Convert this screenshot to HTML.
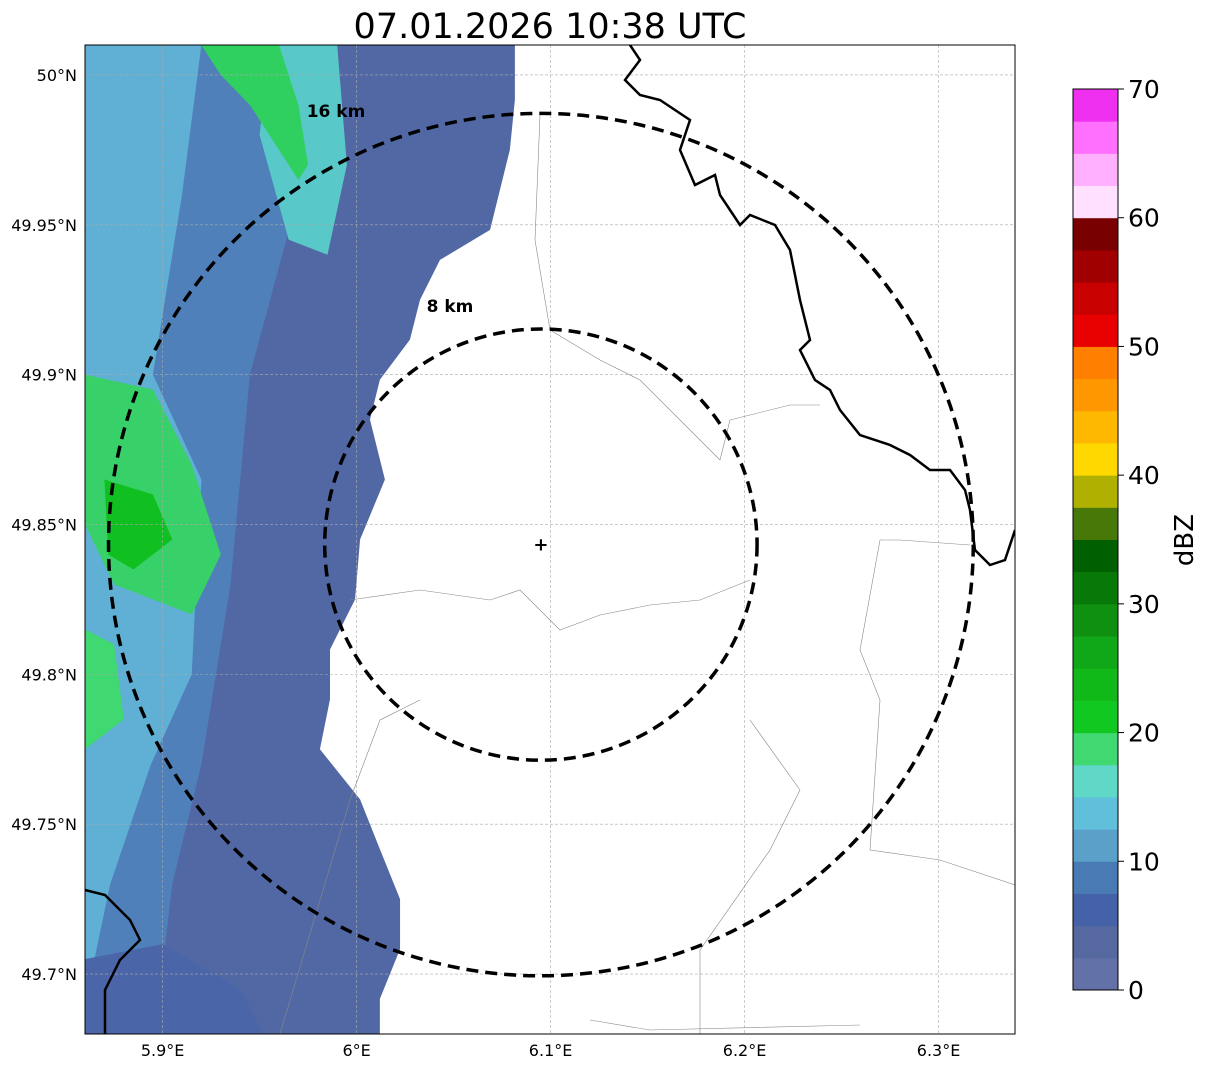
<!DOCTYPE html>
<html><head><meta charset="utf-8"><style>
body{margin:0;background:#fff;}
svg{display:block;font-family:"DejaVu Sans","Liberation Sans",sans-serif;}
</style></head><body>
<svg id="chart" width="1207" height="1069" viewBox="0 0 1207 1069">
<text x="550" y="38" font-size="35" text-anchor="middle">07.01.2026 10:38 UTC</text>
<defs><clipPath id="pc"><rect x="85" y="45" width="930" height="989"/></clipPath></defs>
<g id="plot" clip-path="url(#pc)"></g>
<rect x="85" y="45" width="930" height="989" fill="none" stroke="#000" stroke-width="1"/>
<g id="axes"></g>
<g id="cbar"></g>
</svg>
<script>
const lonTicks=[5.9,6.0,6.1,6.2,6.3];
const lonLabels=["5.9°E","6°E","6.1°E","6.2°E","6.3°E"];
const latTicks=[50,49.95,49.9,49.85,49.8,49.75,49.7];
const latLabels=["50°N","49.95°N","49.9°N","49.85°N","49.8°N","49.75°N","49.7°N"];
const cbLevels=[0,10,20,30,40,50,60,70];
const cbColors=["#6272a8","#5668a0","#4562a8","#4a7ab4","#5aa0c8","#60c0dc","#60d8c8","#40d870","#10c820","#10b818","#10a818","#109010","#087808","#006000","#487808","#b0b000","#ffd800","#ffb800","#ff9800","#ff8000","#e80000","#c80000","#a00000","#780000","#ffe0ff","#ffb0ff","#ff70ff","#f030f0"];
const radarCenter=[6.095,49.8433];
const ringKm=[8,16];
const echoEdge=[[50.01,6.0816],[49.9917,6.0816],[49.975,6.079],[49.9483,6.0688],[49.9383,6.043],[49.925,6.0327],[49.9117,6.0275],[49.8983,6.012],[49.885,6.0069],[49.865,6.0146],[49.845,6.0018],[49.825,5.9992],[49.8083,5.9863],[49.7917,5.9863],[49.775,5.9811],[49.7583,6.0018],[49.7417,6.012],[49.725,6.0224],[49.7083,6.0224],[49.6917,6.012],[49.67,6.012]];
const lightEdge=[[50.01,5.99],[49.96,5.97],[49.9,5.945],[49.83,5.935],[49.77,5.92],[49.73,5.905],[49.67,5.894]];
const cyanEdge=[[50.01,5.92],[49.96,5.91],[49.9,5.895],[49.865,5.92],[49.8,5.915],[49.77,5.894],[49.73,5.873],[49.69,5.86]];
const tealPatch=[[50.01,5.955],[50.01,5.99],[49.97,5.995],[49.94,5.985],[49.945,5.965],[49.98,5.95]];
const greenTop=[[50.01,5.92],[50.01,5.96],[49.99,5.97],[49.97,5.975],[49.965,5.97],[49.99,5.945],[50.0,5.93]];
const greenLeft=[[49.9,5.86],[49.895,5.895],[49.87,5.915],[49.84,5.93],[49.82,5.915],[49.83,5.875],[49.85,5.86]];
const greenCore=[[49.865,5.87],[49.86,5.895],[49.845,5.905],[49.835,5.885],[49.84,5.872]];
const greenLow=[[49.815,5.86],[49.81,5.875],[49.785,5.88],[49.775,5.86]];
const darkLow=[[49.705,5.86],[49.71,5.9],[49.695,5.94],[49.67,5.96],[49.67,5.86]];
const NS="http://www.w3.org/2000/svg";
const X0=85,X1=1015,Y0=45,Y1=1034,LON0=5.86,LON1=6.3394,LAT0=50.01,LAT1=49.68;
function sx(lon){return X0+(lon-LON0)/(LON1-LON0)*(X1-X0);}
function sy(lat){return Y0+(LAT0-lat)/(LAT0-LAT1)*(Y1-Y0);}
function mk(tag,attrs,parent){const e=document.createElementNS(NS,tag);for(const k in attrs)e.setAttribute(k,attrs[k]);parent.appendChild(e);return e;}
const plot=document.getElementById('plot'),axes=document.getElementById('axes'),cbar=document.getElementById('cbar');
function edgePoly(edge,color,name){
  let pts=edge.map(p=>sx(p[1])+','+sy(p[0]));
  pts.push(sx(LON0)+','+sy(edge[edge.length-1][0]));pts.push(sx(LON0)+','+sy(edge[0][0]));
  const e=mk('polygon',{points:pts.join(' '),fill:color},plot);
  
  
}
function patch(poly,color,name){
  const e=mk('polygon',{points:poly.map(p=>sx(p[1])+','+sy(p[0])).join(' '),fill:color},plot);
  
  
}
edgePoly(echoEdge,"#5268a4","echo-region");
edgePoly(lightEdge,"#4f80ba","echo-moderate");
edgePoly(cyanEdge,"#5fb0d4","echo-cyan");
patch(tealPatch,"#58c8c8","echo-teal-patch");
patch(greenTop,"#30d060","echo-green-top");
patch(greenLeft,"#38d068","echo-green-left");
patch(greenCore,"#10c020","echo-green-core");
patch(greenLow,"#40d870","echo-green-low");
patch(darkLow,"#4a66a8","echo-dark-low");
lonTicks.forEach((t,i)=>{
  const g=mk('line',{x1:sx(t),x2:sx(t),y1:Y0,y2:Y1,stroke:"#aaa","stroke-width":0.6,"stroke-dasharray":"3,2"},plot);
  
  const tx=mk('text',{x:sx(t),y:1056,"font-size":16,"text-anchor":"middle"},axes);tx.textContent=lonLabels[i];
  
});
latTicks.forEach((t,i)=>{
  const g=mk('line',{x1:X0,x2:X1,y1:sy(t),y2:sy(t),stroke:"#aaa","stroke-width":0.6,"stroke-dasharray":"3,2"},plot);
  
  const tx=mk('text',{x:77,y:sy(t)+6,"font-size":16,"text-anchor":"end"},axes);tx.textContent=latLabels[i];
  
});
const grayLines=["M540,115 L535,240 L550,330","M350,600 L420,590 L490,600 L520,590 L560,630 L600,615 L650,605 L700,600 L750,580","M730,420 L790,405 L820,405","M880,540 L900,540 L970,545","M880,540 L860,650 L880,700 L870,850 L940,860 L1015,885","M420,700 L380,720 L350,800 L280,1034","M750,720 L800,790 L770,850 L700,950 L700,1034","M590,1020 L650,1030 L860,1025","M550,330 L600,360 L640,380 L680,420 L720,460 L730,420"];
grayLines.forEach(d=>{const e=mk('path',{d:d,fill:"none",stroke:"#888","stroke-width":0.6},plot);
  });
const blackLines=["M630,45 L640,60 L625,80 L640,95 L660,100 L690,120 L680,150 L695,185 L715,175 L720,195 L740,225 L750,215 L775,225 L790,250 L800,300 L810,340 L800,350 L815,380 L830,390 L840,410 L860,435 L890,445 L910,455 L930,470 L950,470 L965,490 L970,510 L975,550 L990,565 L1005,560 L1015,530","M85,890 L105,895 L130,920 L140,940 L120,960 L105,990 L105,1034"];
blackLines.forEach(d=>{const e=mk('path',{d:d,fill:"none",stroke:"#000","stroke-width":2.5},plot);
  });
const cx=sx(radarCenter[0]),cy=sy(radarCenter[1]);
ringKm.forEach(km=>{
  const ry=sy(radarCenter[1]-km/111.2)-cy, rx=sx(radarCenter[0]+km/(111.32*Math.cos(radarCenter[1]*Math.PI/180)))-cx;
  const e=mk('ellipse',{cx:cx,cy:cy,rx:rx,ry:ry,fill:"none",stroke:"#000","stroke-width":3.5,"stroke-dasharray":"12,7"},plot);
  
  const t=mk('text',{x:km==8?450:336,y:km==8?312:117,"font-size":17,"font-weight":"bold","text-anchor":"middle"},plot);
  t.textContent=km+' km';
  
});
const m=mk('text',{x:cx,y:cy+6,"font-size":18,"font-weight":"bold","text-anchor":"middle"},plot);m.textContent='+';

const CB_X=1073,CB_W=45,CB_T=89,CB_B=990;
function cy2(v){return CB_B-(v-0)/(70-0)*(CB_B-CB_T);}
cbColors.forEach((c,i)=>{
  const r=mk('rect',{x:CB_X,y:cy2((i+1)*2.5),width:CB_W,height:cy2(i*2.5)-cy2((i+1)*2.5)+0.5,fill:c},cbar);
  
});
mk('rect',{x:CB_X,y:CB_T,width:CB_W,height:CB_B-CB_T,fill:"none",stroke:"#000","stroke-width":1},cbar);
cbLevels.forEach(v=>{
  mk('line',{x1:CB_X+CB_W,x2:CB_X+CB_W+6,y1:cy2(v),y2:cy2(v),stroke:"#000"},cbar);
  const t=mk('text',{x:1128,y:cy2(v)+9,"font-size":25},cbar);t.textContent=v;
  
});
const lab=mk('text',{x:1193,y:540,"font-size":26,"text-anchor":"middle",transform:"rotate(-90 1193 540)"},cbar);lab.textContent='dBZ';

</script>
</body></html>
